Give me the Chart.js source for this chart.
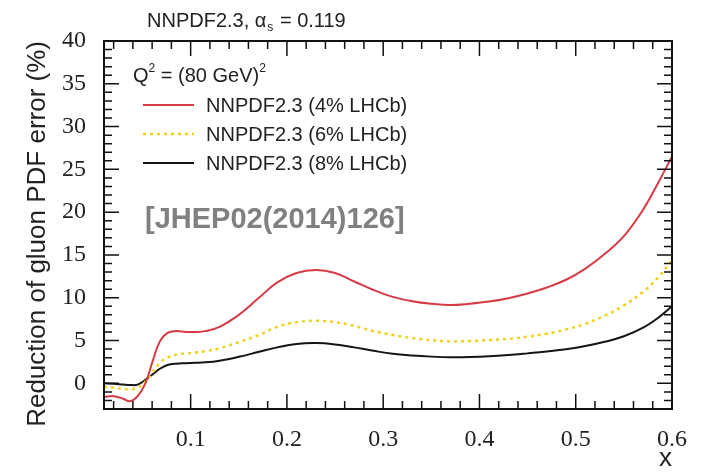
<!DOCTYPE html>
<html lang="en">
<head>
    <meta charset="UTF-8">
    <title>Reduction of gluon PDF error</title>
    <style>
        body {
            margin: 0;
            background-color: #ffffff;
        }
        #chart-box {
            width: 712px;
            height: 472px;
        }
    </style>
</head>
<body>
    <div id="chart-box">
        <canvas id="pdfChart" width="712" height="472"></canvas>
    </div>

    <script src="https://cdn.jsdelivr.net/npm/chart.js"></script>
    <script>
        // values
        const xValues = [0.01, 0.02, 0.03, 0.037, 0.045, 0.053, 0.06, 0.068, 0.076, 0.085,
            0.095, 0.105, 0.115, 0.13, 0.15, 0.17, 0.19, 0.21, 0.23, 0.25,
            0.27, 0.29, 0.31, 0.33, 0.35, 0.37, 0.39, 0.41, 0.43, 0.45,
            0.47, 0.49, 0.51, 0.53, 0.55, 0.57, 0.585, 0.6];
        const lhcb4 = [-1.6, -1.5, -1.8, -2.1, -1.5, 0.0, 2.4, 4.9, 5.9, 6.1,
            6.0, 6.0, 6.1, 6.6, 8.0, 9.9, 11.8, 12.9, 13.25, 12.9,
            11.9, 10.9, 10.1, 9.6, 9.3, 9.15, 9.3, 9.55, 9.95, 10.5,
            11.2, 12.1, 13.4, 15.1, 17.2, 20.3, 23.3, 26.5];
        const lhcb6 = [-0.4, -0.5, -0.65, -0.7, -0.5, 0.2, 1.2, 2.4, 3.0, 3.35,
            3.5, 3.6, 3.75, 4.1, 4.8, 5.6, 6.6, 7.15, 7.3, 7.15,
            6.7, 6.1, 5.65, 5.3, 5.05, 4.9, 4.95, 5.05, 5.2, 5.45,
            5.8, 6.3, 6.95, 7.9, 9.1, 10.7, 12.3, 14.4];
        const lhcb8 = [0.0, -0.05, -0.15, -0.2, -0.15, 0.4, 1.0, 1.7, 2.15, 2.3,
            2.35, 2.4, 2.45, 2.65, 3.1, 3.65, 4.2, 4.6, 4.7, 4.55,
            4.2, 3.8, 3.45, 3.25, 3.12, 3.05, 3.07, 3.15, 3.3, 3.5,
            3.72, 3.98, 4.35, 4.85, 5.5, 6.5, 7.6, 9.0];
        const seriesLabels = ["NNPDF2.3 (4% LHCb)", "NNPDF2.3 (6% LHCb)", "NNPDF2.3 (8% LHCb)"];
        const xTicks = [0.1, 0.2, 0.3, 0.4, 0.5, 0.6];
        const yTicks = [0, 5, 10, 15, 20, 25, 30, 35, 40];

        function toPoints(ys) {
            return xValues.map((x, i) => ({ x: x, y: ys[i] }));
        }

        // ROOT style: inward ticks on all four sides, frame, legend and labels
        const rootFrame = {
            id: "rootFrame",
            afterDraw(chart) {
                const ctx = chart.ctx;
                const area = chart.chartArea;
                const xs = chart.scales.x;
                const ys = chart.scales.y;
                ctx.save();
                ctx.strokeStyle = "#111";
                ctx.lineWidth = 1.5;
                ctx.beginPath();
                for (let v = 0.02; v <= 0.6001; v += 0.02) {
                    const px = xs.getPixelForValue(v);
                    const major = Math.abs(v * 10 - Math.round(v * 10)) < 1e-6;
                    const len = major ? 15 : 8;
                    ctx.moveTo(px, area.bottom); ctx.lineTo(px, area.bottom - len);
                    ctx.moveTo(px, area.top); ctx.lineTo(px, area.top + len);
                }
                for (let v = -2; v <= 40; v += 1) {
                    const py = ys.getPixelForValue(v);
                    const len = v % 5 === 0 ? 15 : 8;
                    ctx.moveTo(area.left, py); ctx.lineTo(area.left + len, py);
                    ctx.moveTo(area.right, py); ctx.lineTo(area.right - len, py);
                }
                ctx.stroke();
                ctx.lineWidth = 2;
                ctx.strokeRect(area.left, area.top, area.right - area.left, area.bottom - area.top);

                // title above the frame
                ctx.fillStyle = "#222";
                ctx.textBaseline = "alphabetic";
                ctx.font = "20px 'Liberation Sans', Arial, sans-serif";
                let tx = 147;
                ctx.fillText("NNPDF2.3, α", tx, 27);
                tx += ctx.measureText("NNPDF2.3, α").width;
                ctx.font = "12px 'Liberation Sans', Arial, sans-serif";
                ctx.fillText("s", tx + 1, 31);
                tx += ctx.measureText("s").width + 2;
                ctx.font = "20px 'Liberation Sans', Arial, sans-serif";
                ctx.fillText(" = 0.119", tx, 27);

                // Q^2 label
                ctx.font = "20px 'Liberation Sans', Arial, sans-serif";
                let qx = 133;
                ctx.fillText("Q", qx, 82);
                qx += ctx.measureText("Q").width;
                ctx.font = "12px 'Liberation Sans', Arial, sans-serif";
                ctx.fillText("2", qx, 72);
                qx += ctx.measureText("2").width;
                ctx.font = "20px 'Liberation Sans', Arial, sans-serif";
                ctx.fillText(" = (80 GeV)", qx, 82);
                qx += ctx.measureText(" = (80 GeV)").width;
                ctx.font = "12px 'Liberation Sans', Arial, sans-serif";
                ctx.fillText("2", qx, 72);

                // legend entries taken from the datasets
                ctx.font = "20px 'Liberation Sans', Arial, sans-serif";
                ctx.textBaseline = "middle";
                chart.data.datasets.forEach((ds, i) => {
                    const ly = 105 + i * 29;
                    ctx.strokeStyle = ds.borderColor;
                    ctx.lineWidth = ds.borderWidth;
                    ctx.setLineDash(ds.borderDash || []);
                    ctx.beginPath();
                    ctx.moveTo(143, ly);
                    ctx.lineTo(194, ly);
                    ctx.stroke();
                    ctx.setLineDash([]);
                    ctx.fillStyle = "#222";
                    ctx.fillText(ds.label, 206, ly + 1);
                });

                // reference tag
                ctx.font = "bold 29px 'Liberation Sans', Arial, sans-serif";
                ctx.fillStyle = "#808080";
                ctx.fillText("[JHEP02(2014)126]", 145, 220);
                ctx.restore();
            }
        };

        const ctx = document.getElementById("pdfChart").getContext("2d");
        const pdfChart = new Chart(ctx, {
            type: "line",
            plugins: [rootFrame],
            data: {
                datasets: [{
                    label: seriesLabels[0],
                    data: toPoints(lhcb4),
                    borderColor: "#d43b45",
                    borderWidth: 2,
                    pointRadius: 0,
                    tension: 0.4
                }, {
                    label: seriesLabels[1],
                    data: toPoints(lhcb6),
                    borderColor: "#eed21c",
                    borderWidth: 2.5,
                    borderDash: [3, 4],
                    pointRadius: 0,
                    tension: 0.4
                }, {
                    label: seriesLabels[2],
                    data: toPoints(lhcb8),
                    borderColor: "#151515",
                    borderWidth: 2,
                    pointRadius: 0,
                    tension: 0.4
                }]
            },
            options: {
                responsive: false,
                animation: false,
                devicePixelRatio: 1,
                layout: {
                    padding: { top: 41, right: 40, left: 0, bottom: 0 }
                },
                plugins: {
                    legend: { display: false },
                    tooltip: { enabled: false }
                },
                scales: {
                    x: {
                        type: "linear",
                        min: 0.01,
                        max: 0.6,
                        afterFit: s => { s.height = 63; },
                        afterBuildTicks: s => { s.ticks = xTicks.map(v => ({ value: v })); },
                        grid: { display: false },
                        border: { display: false },
                        ticks: {
                            padding: 8,
                            color: "#222",
                            font: { family: "'Liberation Serif', 'Times New Roman', serif", size: 24 },
                            callback: v => v.toFixed(1)
                        },
                        title: {
                            display: true,
                            text: "x",
                            align: "end",
                            color: "#222",
                            padding: { top: 0, bottom: 0 },
                            font: { family: "'Liberation Sans', Arial, sans-serif", size: 26, lineHeight: 1 }
                        }
                    },
                    y: {
                        min: -3,
                        max: 40,
                        afterFit: s => { s.width = 104; },
                        afterBuildTicks: s => { s.ticks = yTicks.map(v => ({ value: v })); },
                        grid: { display: false },
                        border: { display: false },
                        ticks: {
                            padding: 10,
                            color: "#222",
                            font: { family: "'Liberation Serif', 'Times New Roman', serif", size: 24 }
                        },
                        title: {
                            display: true,
                            text: "Reduction of gluon PDF error (%)",
                            align: "end",
                            color: "#222",
                            padding: { top: 25, bottom: 0 },
                            font: { family: "'Liberation Sans', Arial, sans-serif", size: 26, lineHeight: 1 }
                        }
                    }
                }
            }
        });
    </script>
</body>
</html>
